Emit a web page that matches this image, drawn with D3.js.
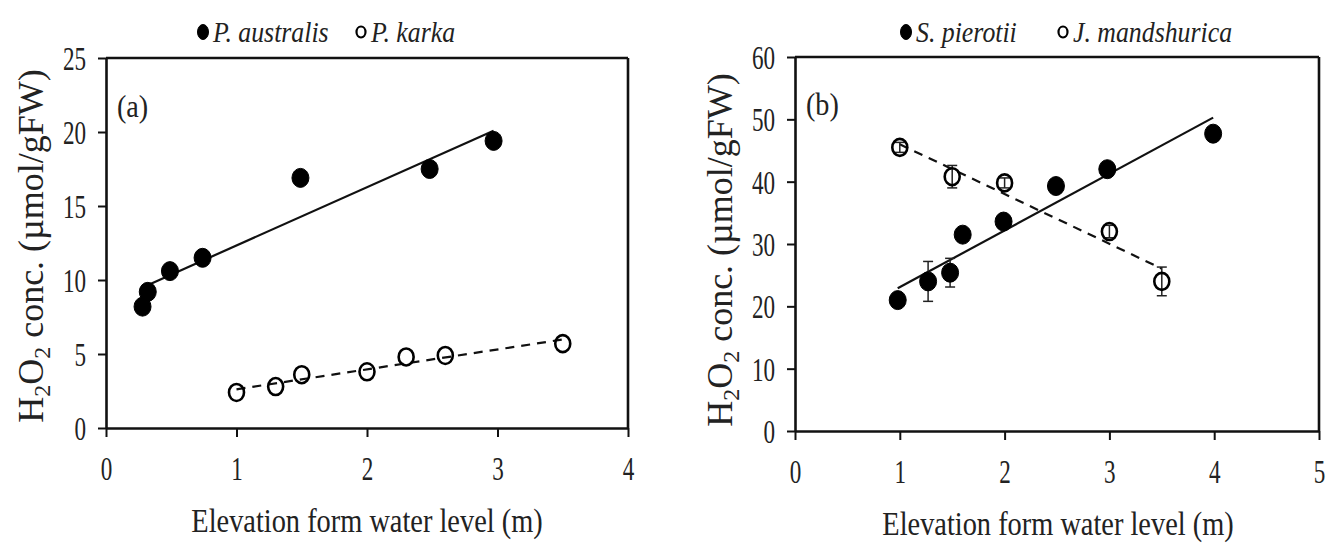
<!DOCTYPE html>
<html>
<head>
<meta charset="utf-8">
<script src="https://cdn.jsdelivr.net/npm/d3@7"></script>
<style>
  html, body { margin: 0; padding: 0; background: #fff; }
  svg { display: block; }
</style>
</head>
<body>
<svg id="chart" width="1336" height="544"></svg>
<script>
// ---------- DATA ----------
// Panel (a)
const aXTicks = [0, 1, 2, 3, 4];
const aYTicks = [0, 5, 10, 15, 20, 25];
const australisX = [0.28, 0.32, 0.49, 0.74, 1.49, 2.48, 2.97];
const australisY = [8.2, 9.2, 10.6, 11.5, 16.9, 17.5, 19.4];
const karkaX = [1.0, 1.3, 1.5, 2.0, 2.3, 2.6, 3.5];
const karkaY = [2.4, 2.8, 3.6, 3.8, 4.8, 4.9, 5.7];

// Panel (b)
const bXTicks = [0, 1, 2, 3, 4, 5];
const bYTicks = [0, 10, 20, 30, 40, 50, 60];
const pierotiiX = [0.98, 1.27, 1.48, 1.6, 1.99, 2.49, 2.98, 3.99];
const pierotiiY = [21.0, 24.0, 25.4, 31.5, 33.6, 39.3, 42.0, 47.7];
const pierotiiErr = [0.8, 3.2, 2.3, 0.8, 0.8, 0.6, 0.6, 0.6];
const mandshuricaX = [1.0, 1.5, 2.0, 3.0, 3.5];
const mandshuricaY = [45.5, 40.8, 39.8, 32.0, 24.0];
const mandshuricaErr = [0.8, 1.8, 0.8, 1.0, 2.3];

const xTitle = "Elevation form water level (m)";

// ---------- HELPERS ----------
const svg = d3.select("#chart");
const serif = "'Liberation Serif', 'DejaVu Serif', serif";
const ink = "#222";

function fit(xs, ys) {
  const mx = d3.mean(xs), my = d3.mean(ys);
  let sxy = 0, sxx = 0;
  xs.forEach((x, i) => { sxy += (x - mx) * (ys[i] - my); sxx += (x - mx) * (x - mx); });
  const b = sxy / sxx;
  return { b, a: my - b * mx };
}

function panel(cfg) {
  const g = svg.append("g");
  const x = d3.scaleLinear().domain(cfg.xDomain).range([cfg.left, cfg.right]);
  const y = d3.scaleLinear().domain(cfg.yDomain).range([cfg.bottom, cfg.top]);

  // frame top & right
  g.append("line").attr("x1", cfg.left).attr("x2", cfg.right).attr("y1", cfg.top).attr("y2", cfg.top)
    .attr("stroke", "#111").attr("stroke-width", 2.6);
  g.append("line").attr("x1", cfg.right).attr("x2", cfg.right).attr("y1", cfg.top).attr("y2", cfg.bottom)
    .attr("stroke", "#111").attr("stroke-width", 2.6);

  // axes
  const TS = 0.68; // horizontal squeeze of tick labels
  const xa = g.append("g").attr("transform", `translate(0,${cfg.bottom})`)
    .call(d3.axisBottom(x).tickValues(cfg.xTicks).tickSize(9).tickPadding(19).tickSizeOuter(0).tickFormat(d3.format("d")));
  const ya = g.append("g").attr("transform", `translate(${cfg.left},0)`)
    .call(d3.axisLeft(y).tickValues(cfg.yTicks).tickSize(8).tickPadding(12).tickSizeOuter(0).tickFormat(d3.format("d")));
  [xa, ya].forEach(a => {
    a.select(".domain").attr("stroke", "#111").attr("stroke-width", 2.6);
    a.selectAll(".tick line").attr("stroke", "#111").attr("stroke-width", 2);
    a.selectAll(".tick text").attr("fill", ink).style("font-family", serif).style("font-size", "34px")
      .attr("transform", `scale(${TS},1)`);
  });
  ya.selectAll(".tick text").attr("x", -20 / TS).attr("dy", "0.34em");

  // panel label
  g.append("text").attr("transform", `translate(${cfg.left + 11},${cfg.labY}) scale(0.88,1)`)
    .style("font-family", serif).style("font-size", "32px").attr("fill", ink).text(cfg.label);

  // trend lines
  cfg.series.forEach(s => {
    const f = fit(s.x, s.y);
    const x0 = d3.min(s.x), x1 = d3.max(s.x);
    g.append("line")
      .attr("x1", x(x0)).attr("y1", y(f.a + f.b * x0))
      .attr("x2", x(x1)).attr("y2", y(f.a + f.b * x1))
      .attr("stroke", "#111").attr("stroke-width", 2.2)
      .attr("stroke-dasharray", s.filled ? null : "9,7");
  });

  // error bars + markers
  cfg.series.forEach(s => {
    const pts = s.x.map((d, i) => ({ x: d, y: s.y[i], e: s.err ? s.err[i] : 0 }));
    const eb = g.append("g");
    pts.filter(p => p.e > 0).forEach(p => {
      eb.append("line").attr("x1", x(p.x)).attr("x2", x(p.x)).attr("y1", y(p.y - p.e)).attr("y2", y(p.y + p.e))
        .attr("stroke", ink).attr("stroke-width", 1.5);
      [p.y - p.e, p.y + p.e].forEach(v => {
        eb.append("line").attr("x1", x(p.x) - 5).attr("x2", x(p.x) + 5).attr("y1", y(v)).attr("y2", y(v))
          .attr("stroke", ink).attr("stroke-width", 1.5);
      });
    });
    g.append("g").selectAll("ellipse").data(pts).join("ellipse")
      .attr("cx", d => x(d.x)).attr("cy", d => y(d.y))
      .attr("rx", s.filled ? 8.5 : 7.5).attr("ry", s.filled ? 9.5 : 8.5)
      .attr("fill", s.filled ? "#000" : "none")
      .attr("stroke", "#000").attr("stroke-width", s.filled ? 1 : 2.6);
  });

  // legend
  cfg.series.forEach((s, i) => {
    const lx = cfg.legX[i];
    g.append("ellipse").attr("cx", lx).attr("cy", 32).attr("rx", s.filled ? 5.5 : 4.5).attr("ry", s.filled ? 7.5 : 5.5)
      .attr("fill", s.filled ? "#000" : "none").attr("stroke", "#000").attr("stroke-width", s.filled ? 1 : 2.2);
    g.append("text").attr("transform", `translate(${lx + 10},42) scale(0.86,1)`)
      .style("font-family", serif).style("font-size", "30px").style("font-style", "italic")
      .attr("fill", ink).text(s.name);
  });

  // x title
  g.append("text").attr("transform", `translate(${cfg.xTitleX},${cfg.xTitleY}) scale(0.86,1)`)
    .attr("text-anchor", "middle").style("font-family", serif).style("font-size", "33px")
    .attr("fill", ink).text(xTitle);

  // y title
  const yt = g.append("text")
    .attr("transform", `translate(${cfg.yTitleX},${cfg.yTitleY}) rotate(-90)`)
    .attr("text-anchor", "middle").style("font-family", serif).style("font-size", "36px").attr("fill", ink);
  yt.append("tspan").text("H");
  yt.append("tspan").attr("dy", 7).style("font-size", "24px").text("2");
  yt.append("tspan").attr("dy", -7).text("O");
  yt.append("tspan").attr("dy", 7).style("font-size", "24px").text("2");
  yt.append("tspan").attr("dy", -7).text(" conc.  (\u00b5mol/gFW)");
}

panel({
  left: 106, right: 628, top: 58, bottom: 428,
  xDomain: [0, 4], yDomain: [0, 25], xTicks: aXTicks, yTicks: aYTicks,
  label: "(a)", labY: 117, legX: [203, 361], xTitleX: 367, xTitleY: 532, yTitleX: 43, yTitleY: 246,
  series: [
    { name: "P. australis", x: australisX, y: australisY, filled: true },
    { name: "P. karka", x: karkaX, y: karkaY, filled: false }
  ]
});

panel({
  left: 795, right: 1319, top: 57, bottom: 431,
  xDomain: [0, 5], yDomain: [0, 60], xTicks: bXTicks, yTicks: bYTicks,
  label: "(b)", labY: 115, legX: [906, 1063], xTitleX: 1058, xTitleY: 535, yTitleX: 732, yTitleY: 250,
  series: [
    { name: "S. pierotii", x: pierotiiX, y: pierotiiY, err: pierotiiErr, filled: true },
    { name: "J. mandshurica", x: mandshuricaX, y: mandshuricaY, err: mandshuricaErr, filled: false }
  ]
});
</script>
</body>
</html>
